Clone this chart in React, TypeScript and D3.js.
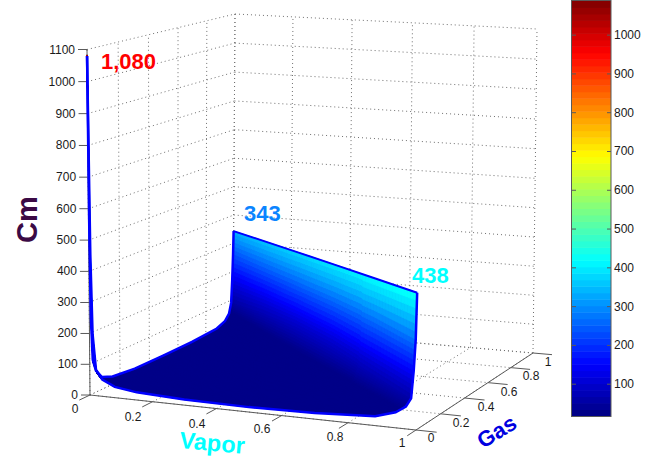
import React from "react";
import * as d3 from "d3";

const W = 663, H = 462;
const zTicks = [0, 100, 200, 300, 400, 500, 600, 700, 800, 900, 1000, 1100];
const unitTicks = [0, 0.2, 0.4, 0.6, 0.8, 1];
const cbTicks = [100, 200, 300, 400, 500, 600, 700, 800, 900, 1000];
const cbMin = 18, cbMax = 1088;

// t: position along the ridge (Vapor + Gas = 1), from Gas=1 (t=0) to Vapor=1 (t=1)
const ridgeT = [0, 0.2, 0.4, 0.6, 0.8, 1];
// d: distance from the ridge towards the origin
const depthD = [0, 0.003, 0.008, 0.015, 0.03, 0.06, 0.12, 0.3, 0.5, 0.7, 0.85, 0.92, 0.96, 0.98, 0.99, 0.995, 1];
const cmRow00 = [343, 362, 381, 400, 419, 438];
const cmRow01 = [260, 270, 280, 290, 295, 290];
const cmRow02 = [170, 185, 195, 200, 195, 190];
const cmRow03 = [90, 115, 130, 130, 115, 100];
const cmRow04 = [55, 70, 75, 75, 72, 72];
const cmRow05 = [35, 38, 40, 42, 46, 50];
const cmRow06 = [22, 25, 26, 27, 29, 30];
const cmRow07 = [16, 18, 19, 20, 20, 20];
const cmRow08 = [16, 16, 16, 16, 16, 16];
const cmRow09 = [17, 17, 17, 17, 18, 18];
const cmRow10 = [26, 26, 25, 25, 25, 25];
const cmRow11 = [40, 38, 36, 35, 35, 35];
const cmRow12 = [70, 64, 60, 58, 56, 55];
const cmRow13 = [110, 100, 95, 90, 88, 85];
const cmRow14 = [250, 235, 220, 210, 205, 200];
const cmRow15 = [500, 490, 480, 470, 460, 450];
const cmRow16 = [1080, 1080, 1080, 1080, 1080, 1080];
const cmTable = [cmRow00, cmRow01, cmRow02, cmRow03, cmRow04, cmRow05, cmRow06, cmRow07, cmRow08, cmRow09, cmRow10, cmRow11, cmRow12, cmRow13, cmRow14, cmRow15, cmRow16];

// projected corners of the 3D box [vapor, gas, cm]
const corners: Record<string, [number, number]> = {
  "000": [90, 395], "100": [416, 430], "010": [233, 327], "110": [533, 353],
  "001": [87, 49.5], "101": [419, 80], "011": [235, 14], "111": [537, 29],
};
const wx = [1, 0.95], wy = [1, 1.065], wz = [1, 0.975];

const sx = d3.scaleLinear().domain([0, 1]).range([0, 1]);
const sy = d3.scaleLinear().domain([0, 1]).range([0, 1]);
const sz = d3.scaleLinear().domain([0, 1100]).range([0, 1]);

function proj(xv: number, yv: number, zv: number): [number, number] {
  const u = sx(xv), v = sy(yv), s = sz(zv);
  let X = 0, Y = 0, N = 0;
  for (const i of [0, 1]) for (const j of [0, 1]) for (const k of [0, 1]) {
    const b = (i ? u : 1 - u) * (j ? v : 1 - v) * (k ? s : 1 - s) * wx[i] * wy[j] * wz[k];
    const c = corners[`${i}${j}${k}`];
    X += b * c[0]; Y += b * c[1]; N += b;
  }
  return [X / N, Y / N];
}

function jet(f: number): string {
  const c = (v: number) => Math.round(255 * Math.max(0, Math.min(1, v)));
  const r = 1.5 - Math.abs(4 * f - 3), g = 1.5 - Math.abs(4 * f - 2), b = 1.5 - Math.abs(4 * f - 1);
  return `rgb(${c(r)},${c(g)},${c(b)})`;
}
const levels = d3.range(64);
// the wall's interpolated shading reads darker than its height in its lower part
const shade = d3.scaleLinear().domain([0, 60, 150, 250, 340, 438, 1100]).range([0, 25, 105, 225, 335, 438, 1100]);
const cNorm = d3.scaleLinear().domain([cbMin, cbMax]).range([0, 1]).clamp(true);
const colorOf = (v: number) => jet(Math.max(cNorm(shade(v)), 0.008));

const line = d3.line<[number, number]>();
const pt = (t: number, d: number, z: number) => proj(t * (1 - d), (1 - t) * (1 - d), z);

function buildMesh() {
  const out: { pts: [number, number][]; fill: string; depth: number }[] = [];
  const NA = 6, NB = 14;
  for (let a = 0; a < depthD.length - 1; a++) {
    for (let b = 0; b < ridgeT.length - 1; b++) {
      for (let p = 0; p < NA; p++) for (let q = 0; q < NB; q++) {
        const at = (pp: number, qq: number) => {
          const fa = pp / NA, fb = qq / NB;
          const d = depthD[a] + (depthD[a + 1] - depthD[a]) * fa;
          const t = ridgeT[b] + (ridgeT[b + 1] - ridgeT[b]) * fb;
          const z = d3.interpolateNumber(
            d3.interpolateNumber(cmTable[a][b], cmTable[a][b + 1])(fb),
            d3.interpolateNumber(cmTable[a + 1][b], cmTable[a + 1][b + 1])(fb))(fa);
          return { d, t, z };
        };
        const cs = [at(p, q), at(p, q + 1), at(p + 1, q + 1), at(p + 1, q)];
        const mz = d3.mean(cs, c => c.z)!;
        const md = d3.mean(cs, c => c.d)!, mt = d3.mean(cs, c => c.t)!;
        const X = mt * (1 - md), Y = (1 - mt) * (1 - md);
        out.push({ pts: cs.map(c => pt(c.t, c.d, c.z)), fill: colorOf(mz), depth: Y - 0.35 * X });
      }
    }
  }
  return out.sort((m, n) => n.depth - m.depth);
}

const font = "'Liberation Sans', Arial, sans-serif";
const gridStyle = { stroke: "#707070", strokeWidth: 1, strokeDasharray: "1 3", fill: "none" };
const axisStyle = { stroke: "#5a5a5a", strokeWidth: 1, fill: "none" };

function Seg({ a, b, s }: { a: [number, number]; b: [number, number]; s: any }) {
  return <path d={line([a, b])!} {...s} />;
}

const xLabelPos: [number, number][] = [[75, 413], [133, 421], [197, 428], [262, 433], [335, 441], [402, 447]];
const gasLabelPos: [number, number][] = [[431, 442], [461, 427], [486, 411], [509, 396], [531, 380], [548, 366]];

export default function App() {
  const mesh = buildMesh();
  const zMaxTick = 1100;
  const cbY = d3.scaleLinear().domain([cbMin, cbMax]).range([416, 1]);
  const bandH = (416 - 1) / 64;
  const rimLeft = depthD.map((d, i) => pt(0, d, cmTable[i][0]));
  const rimFront = depthD.map((d, i) => pt(1, d, cmTable[i][5]));
  const rimRidge = ridgeT.map((t, i) => pt(t, 0, cmTable[0][i]));
  const outline = [...rimLeft, ...[...rimFront].reverse(), ...[...rimRidge].reverse()];
  return (
    <svg width={W} height={H} style={{ position: "absolute", left: 0, top: 0, background: "#fff" }} fontFamily={font}>
      {zTicks.map(z => (
        <g key={z}>
          <Seg a={proj(0, 0, z)} b={proj(0, 1, z)} s={gridStyle} />
          <Seg a={proj(0, 1, z)} b={proj(1, 1, z)} s={gridStyle} />
        </g>
      ))}
      {unitTicks.map(u => (
        <g key={u}>
          <Seg a={proj(0, u, 0)} b={proj(0, u, zMaxTick)} s={gridStyle} />
          <Seg a={proj(u, 1, 0)} b={proj(u, 1, zMaxTick)} s={gridStyle} />
          <Seg a={proj(u, 0, 0)} b={proj(u, 1, 0)} s={gridStyle} />
          <Seg a={proj(0, u, 0)} b={proj(1, u, 0)} s={gridStyle} />
        </g>
      ))}
      <Seg a={proj(0, 0, 0)} b={proj(0, 0, 1100)} s={axisStyle} />
      <Seg a={proj(0, 0, 0)} b={proj(1, 0, 0)} s={axisStyle} />
      <Seg a={proj(1, 0, 0)} b={proj(1, 1, 0)} s={axisStyle} />
      {zTicks.map(z => {
        const p = proj(0, 0, z);
        return (
          <g key={z}>
            <path d={line([[p[0] - 9, p[1]], p])!} {...axisStyle} />
            <text x={p[0] - 12} y={p[1] + 4} textAnchor="end" fontSize={12} fill="#1a1a1a">{z}</text>
          </g>
        );
      })}
      {unitTicks.map((u, i) => (
        <g key={u}>
          <Seg a={proj(u, 0, 0)} b={proj(u, -0.07, 0)} s={axisStyle} />
          <Seg a={proj(1, u, 0)} b={proj(1.06, u, 0)} s={axisStyle} />
          <text x={xLabelPos[i][0]} y={xLabelPos[i][1]} textAnchor="middle" fontSize={12} fill="#1a1a1a">{u}</text>
          <text x={gasLabelPos[i][0]} y={gasLabelPos[i][1]} textAnchor="middle" fontSize={12} fill="#1a1a1a">{u}</text>
        </g>
      ))}
      <path d={line(outline)! + "Z"} fill={jet(0.008)} />
      {mesh.map((m, i) => (
        <path key={i} d={line(m.pts)! + "Z"} fill={m.fill} stroke={m.fill} strokeWidth={1} />
      ))}
      <path d={line(rimLeft)!} fill="none" stroke="#0000ff" strokeWidth={2.5} />
      <path d={line(rimFront)!} fill="none" stroke="#0000ff" strokeWidth={2.5} />
      <path d={line(rimRidge)!} fill="none" stroke="#0000ff" strokeWidth={2} />
      <text x={101} y={69} fontSize={22} fontWeight="bold" fill="#ff0000">1,080</text>
      <text x={244} y={221} fontSize={22} fontWeight="bold" fill="#0a84ff">343</text>
      <text x={412} y={283} fontSize={22} fontWeight="bold" fill="#00ffff">438</text>
      <text transform="translate(37,243) rotate(-90)" fontSize={29} fontWeight="bold" fill="#3b0a45">Cm</text>
      <text transform="translate(179,448) rotate(5)" fontSize={23.5} fontWeight="bold" fill="#00ffff">Vapor</text>
      <text transform="translate(483,449) rotate(-32)" fontSize={22} fontWeight="bold" fill="#0000e0">Gas</text>
      {levels.map(l => (
        <rect key={l} x={572} width={39} y={416 - (l + 1) * bandH} height={bandH + 0.5} fill={jet((l + 0.5) / 64)} />
      ))}
      <rect x={571.5} y={0.5} width={39.5} height={416} fill="none" stroke="#5a5a5a" />
      {cbTicks.map(t => (
        <g key={t}>
          <path d={`M572,${cbY(t)}h4M611,${cbY(t)}h-4`} {...axisStyle} />
          <text x={614} y={cbY(t) + 4} fontSize={12} fill="#1a1a1a">{t}</text>
        </g>
      ))}
    </svg>
  );
}
